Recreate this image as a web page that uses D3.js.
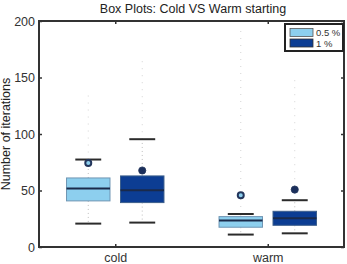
<!DOCTYPE html>
<html>
<head>
<meta charset="utf-8">
<script src="https://cdn.jsdelivr.net/npm/d3@7"></script>
<style>
  body { margin: 0; background: #fff; }
  svg { font-family: "Liberation Sans", Arial, sans-serif; }
</style>
</head>
<body>
<div id="chart"></div>
<script>
var groups = ['cold', 'warm'];
var series = ['0.5 %', '1 %'];
var colors = ['#8dcfee', '#0c3d93'];

// per series, one value per group
var lowCap  = [[20.7, 11.0], [21.6, 12.1]];
var q1      = [[40.8, 17.5], [39.3, 19.2]];
var median  = [[51.7, 23.4], [50.2, 25.4]];
var q3      = [[61.1, 26.9], [62.9, 31.6]];
var highCap = [[77.4, 29.2], [95.4, 41.4]];
var outlier = [[74.4, 45.8], [67.7, 50.8]];
var maxDot  = [[136, 192], [167, 148]];

var yTicks = [0, 50, 100, 150, 200];

var width = 347, height = 264;
var margin = {top: 21, right: 3, bottom: 17, left: 39};

var svg = d3.select('#chart').append('svg')
    .attr('width', width)
    .attr('height', height);

var x = d3.scaleLinear().domain([0.5, 2.5]).range([margin.left, width - margin.right]);
var y = d3.scaleLinear().domain([0, 200]).range([height - margin.bottom, margin.top]);

var offset = 0.177, boxW = 0.285, capW = 0.17;

// title
svg.append('text')
    .attr('x', 193).attr('y', 13)
    .attr('text-anchor', 'middle')
    .attr('font-size', 12.5)
    .attr('fill', '#222')
    .text('Box Plots: Cold VS Warm starting');

// y label
svg.append('text')
    .attr('transform', 'translate(10,' + ((y(0) + y(200)) / 2) + ') rotate(-90)')
    .attr('text-anchor', 'middle')
    .attr('font-size', 12.5)
    .attr('fill', '#222')
    .text('Number of iterations');

// boxes
series.forEach(function (s, si) {
    groups.forEach(function (g, gi) {
        var cx = x(gi + 1 + (si === 0 ? -offset : offset));
        var g0 = svg.append('g');

        // faint dotted whiskers
        g0.append('line')
            .attr('x1', cx).attr('x2', cx)
            .attr('y1', y(highCap[si][gi])).attr('y2', y(maxDot[si][gi]))
            .attr('stroke', '#d4d4d4').attr('stroke-width', 1)
            .attr('stroke-dasharray', '1,6');
        g0.append('line')
            .attr('x1', cx).attr('x2', cx)
            .attr('y1', y(q3[si][gi])).attr('y2', y(highCap[si][gi]))
            .attr('stroke', '#bdbdbd').attr('stroke-width', 1)
            .attr('stroke-dasharray', '1,3');
        g0.append('line')
            .attr('x1', cx).attr('x2', cx)
            .attr('y1', y(q1[si][gi])).attr('y2', y(lowCap[si][gi]))
            .attr('stroke', '#bdbdbd').attr('stroke-width', 1)
            .attr('stroke-dasharray', '1,3');

        // caps
        var capHalf = (x(capW) - x(0)) / 2;
        [lowCap[si][gi], highCap[si][gi]].forEach(function (v) {
            g0.append('line')
                .attr('x1', cx - capHalf).attr('x2', cx + capHalf)
                .attr('y1', y(v)).attr('y2', y(v))
                .attr('stroke', '#2b2b2b').attr('stroke-width', 2);
        });

        var half = (x(boxW) - x(0)) / 2;
        g0.append('rect')
            .attr('x', cx - half)
            .attr('y', y(q3[si][gi]))
            .attr('width', half * 2)
            .attr('height', y(q1[si][gi]) - y(q3[si][gi]))
            .attr('fill', colors[si])
            .attr('stroke', si === 0 ? '#6f95b3' : '#3d5f8c')
            .attr('stroke-width', 1);

        g0.append('line')
            .attr('x1', cx - half).attr('x2', cx + half)
            .attr('y1', y(median[si][gi])).attr('y2', y(median[si][gi]))
            .attr('stroke', '#1a2a4a').attr('stroke-width', 2);

        g0.append('circle')
            .attr('cx', cx).attr('cy', y(outlier[si][gi]))
            .attr('r', si === 0 ? 3 : 3.6)
            .attr('fill', si === 0 ? colors[0] : '#1b2f5c')
            .attr('stroke', '#23365c')
            .attr('stroke-width', si === 0 ? 2 : 0.8);
    });
});

// axes frame
svg.append('rect')
    .attr('x', x(0.5)).attr('y', y(200))
    .attr('width', x(2.5) - x(0.5))
    .attr('height', y(0) - y(200))
    .attr('fill', 'none')
    .attr('stroke', '#333')
    .attr('stroke-width', 2);

var yAxisL = d3.axisLeft(y).tickValues(yTicks).tickSize(-3).tickPadding(4);
var gl = svg.append('g').attr('transform', 'translate(' + x(0.5) + ',0)').call(yAxisL);
gl.select('.domain').remove();
gl.selectAll('text').attr('font-size', 12.5).attr('fill', '#333')
    .attr('font-family', '"Liberation Sans", Arial, sans-serif');
gl.selectAll('line').attr('stroke', '#333').attr('stroke-width', 1.5);

var yAxisR = d3.axisRight(y).tickValues(yTicks).tickSize(-3).tickFormat('');
var gr = svg.append('g').attr('transform', 'translate(' + x(2.5) + ',0)').call(yAxisR);
gr.select('.domain').remove();
gr.selectAll('line').attr('stroke', '#333').attr('stroke-width', 1.5);

var xAxisB = d3.axisBottom(x).tickValues([1, 2]).tickSize(-3).tickPadding(6)
    .tickFormat(function (d) { return groups[d - 1]; });
var gb = svg.append('g').attr('transform', 'translate(0,' + y(0) + ')').call(xAxisB);
gb.select('.domain').remove();
gb.selectAll('text').attr('font-size', 12.5).attr('fill', '#333')
    .attr('font-family', '"Liberation Sans", Arial, sans-serif');
gb.selectAll('line').attr('stroke', '#333').attr('stroke-width', 1.5);

var xAxisT = d3.axisTop(x).tickValues([1, 2]).tickSize(-3).tickFormat('');
var gt = svg.append('g').attr('transform', 'translate(0,' + y(200) + ')').call(xAxisT);
gt.select('.domain').remove();
gt.selectAll('line').attr('stroke', '#333').attr('stroke-width', 1.5);

// legend
var lg = svg.append('g').attr('transform', 'translate(285,24)');
lg.append('rect')
    .attr('width', 58).attr('height', 27)
    .attr('fill', '#fff')
    .attr('stroke', '#222').attr('stroke-width', 2);
series.forEach(function (s, i) {
    lg.append('rect')
        .attr('x', 5).attr('y', 4.5 + i * 10.5)
        .attr('width', 23).attr('height', 8)
        .attr('fill', colors[i])
        .attr('stroke', i === 0 ? '#555' : '#333').attr('stroke-width', 0.8);
    lg.append('text')
        .attr('x', 31).attr('y', 12 + i * 10.5)
        .attr('font-size', 9.5)
        .attr('fill', '#333')
        .text(s);
});
</script>
</body>
</html>
